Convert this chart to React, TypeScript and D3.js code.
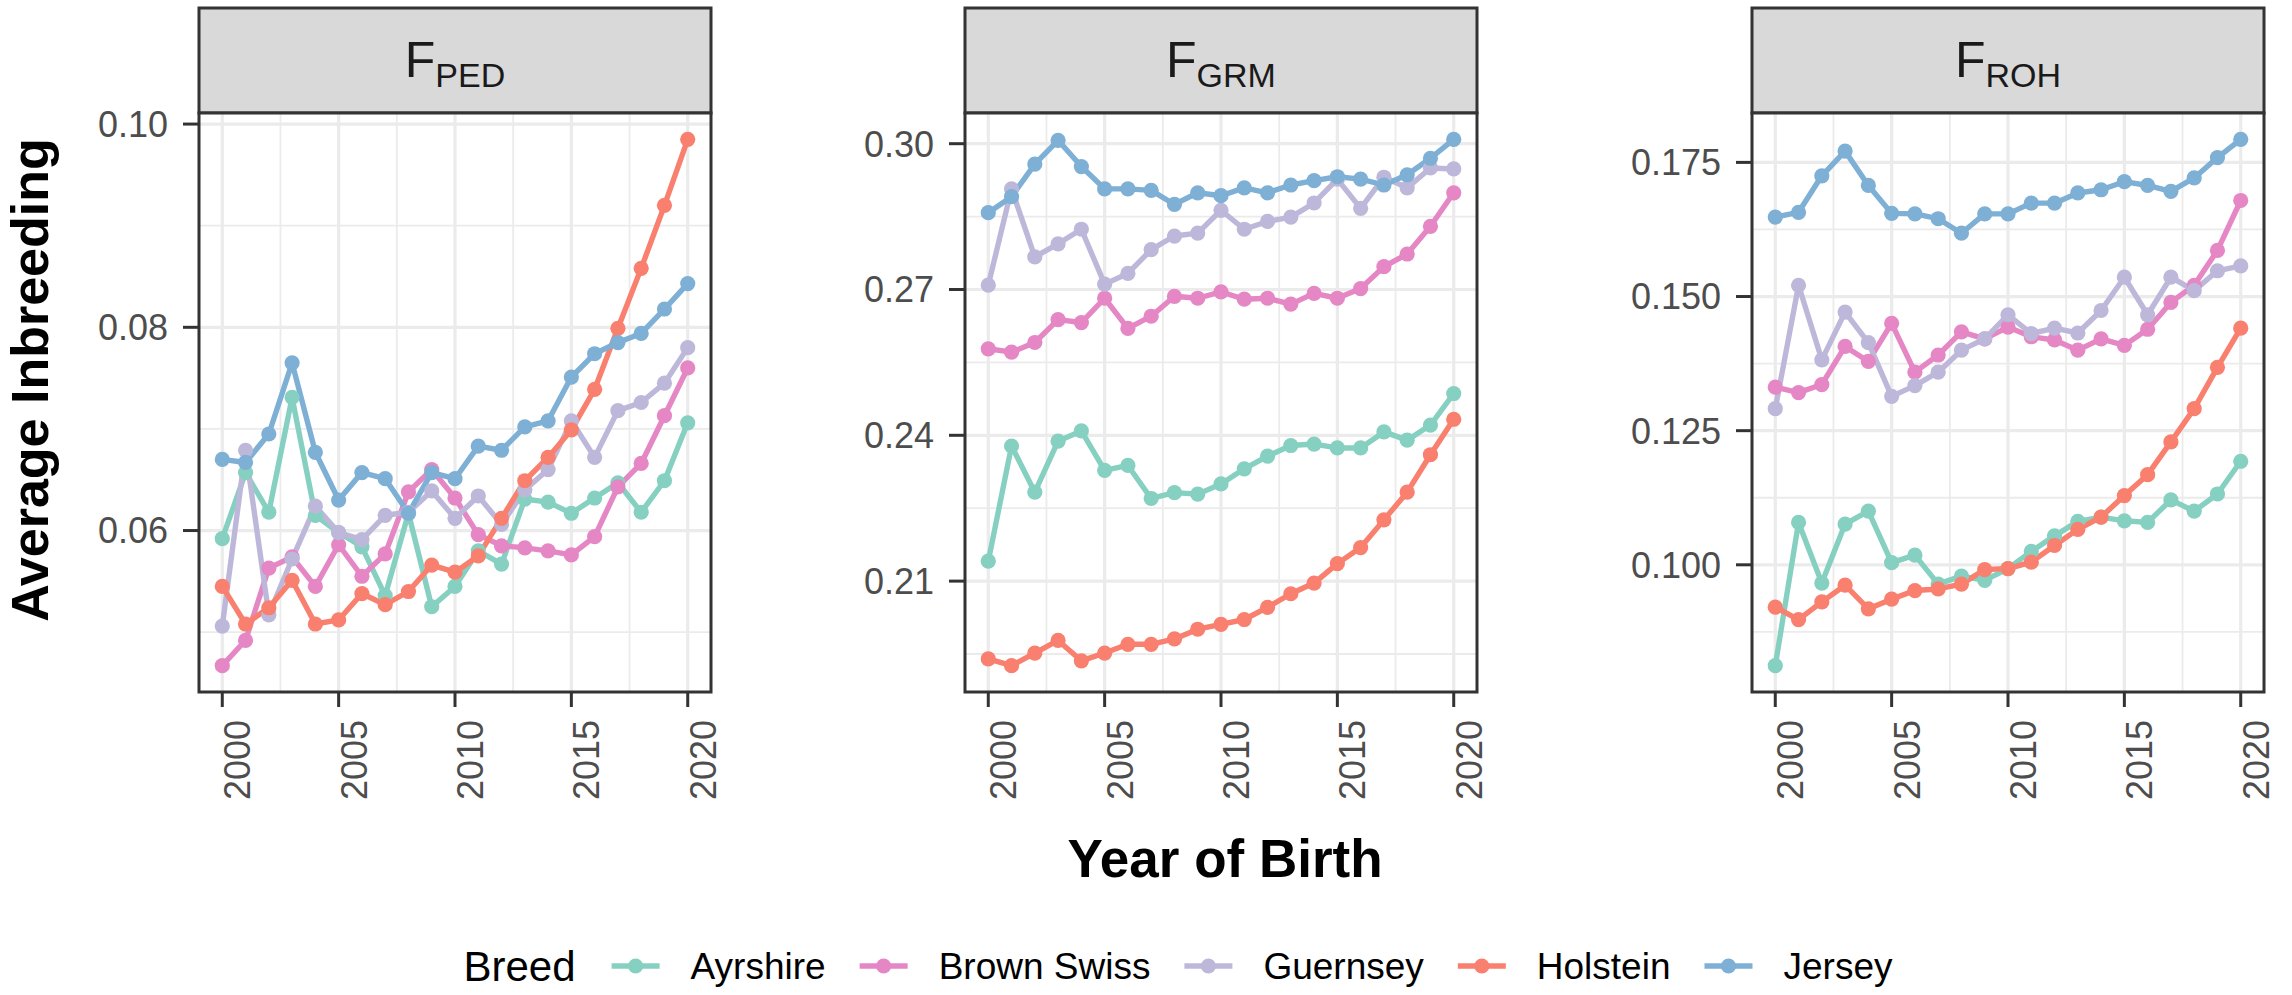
import React, { useMemo } from 'react';
import * as d3 from 'd3';

// Birth years on the x axis
const years = [
  2000, 2001, 2002, 2003, 2004, 2005, 2006, 2007, 2008, 2009, 2010,
  2011, 2012, 2013, 2014, 2015, 2016, 2017, 2018, 2019, 2020,
];

const breeds = ['Ayrshire', 'Brown Swiss', 'Guernsey', 'Holstein', 'Jersey'];
const breedColors = ['#86d0c1', '#e587c4', '#bdb8da', '#f97f6e', '#7eafd5'];

// Pedigree-based inbreeding (F_PED)
const pedAyrshire = [0.0592, 0.0657, 0.0618, 0.0731, 0.0615, 0.0598, 0.0584, 0.0536, 0.0617, 0.0525, 0.0545, 0.0580, 0.0567, 0.0631, 0.0628, 0.0617, 0.0632, 0.0647, 0.0618, 0.0649, 0.0706];
const pedBrownSwiss = [0.0467, 0.0492, 0.0563, 0.0574, 0.0545, 0.0586, 0.0555, 0.0577, 0.0638, 0.0660, 0.0632, 0.0596, 0.0585, 0.0583, 0.0580, 0.0576, 0.0594, 0.0643, 0.0666, 0.0713, 0.0760];
const pedGuernsey = [0.0506, 0.0679, 0.0517, 0.0572, 0.0624, 0.0598, 0.0591, 0.0615, 0.0618, 0.0639, 0.0612, 0.0634, 0.0606, 0.0640, 0.0660, 0.0708, 0.0672, 0.0718, 0.0726, 0.0745, 0.0780];
const pedHolstein = [0.0545, 0.0508, 0.0524, 0.0551, 0.0508, 0.0512, 0.0538, 0.0527, 0.0540, 0.0566, 0.0559, 0.0575, 0.0612, 0.0649, 0.0672, 0.0699, 0.0739, 0.0799, 0.0858, 0.0920, 0.0985];
const pedJersey = [0.0670, 0.0667, 0.0695, 0.0765, 0.0677, 0.0630, 0.0657, 0.0651, 0.0617, 0.0657, 0.0651, 0.0683, 0.0679, 0.0702, 0.0708, 0.0751, 0.0774, 0.0785, 0.0794, 0.0818, 0.0843];

// Genomic relationship matrix inbreeding (F_GRM)
const grmAyrshire = [0.2141, 0.2378, 0.2283, 0.2388, 0.2409, 0.2328, 0.2338, 0.2270, 0.2282, 0.2279, 0.2300, 0.2331, 0.2357, 0.2379, 0.2382, 0.2374, 0.2374, 0.2407, 0.2390, 0.2421, 0.2486];
const grmBrownSwiss = [0.2578, 0.2571, 0.2591, 0.2638, 0.2632, 0.2682, 0.2620, 0.2645, 0.2686, 0.2682, 0.2695, 0.2680, 0.2682, 0.2670, 0.2692, 0.2682, 0.2702, 0.2747, 0.2773, 0.2830, 0.2899];
const grmGuernsey = [0.2709, 0.2907, 0.2767, 0.2794, 0.2824, 0.2711, 0.2733, 0.2782, 0.2810, 0.2816, 0.2863, 0.2824, 0.2840, 0.2849, 0.2878, 0.2927, 0.2867, 0.2931, 0.2909, 0.2950, 0.2948];
const grmHolstein = [0.1940, 0.1926, 0.1952, 0.1978, 0.1936, 0.1952, 0.1970, 0.1970, 0.1981, 0.2001, 0.2011, 0.2021, 0.2046, 0.2074, 0.2096, 0.2136, 0.2169, 0.2226, 0.2283, 0.2360, 0.2433];
const grmJersey = [0.2858, 0.2891, 0.2958, 0.3007, 0.2953, 0.2907, 0.2907, 0.2904, 0.2875, 0.2899, 0.2893, 0.2909, 0.2899, 0.2915, 0.2924, 0.2932, 0.2927, 0.2915, 0.2936, 0.2970, 0.3009];

// Runs-of-homozygosity inbreeding (F_ROH)
const rohAyrshire = [0.0812, 0.1079, 0.0966, 0.1076, 0.1100, 0.1004, 0.1018, 0.0964, 0.0979, 0.0971, 0.0993, 0.1025, 0.1054, 0.1081, 0.1089, 0.1082, 0.1079, 0.1121, 0.1100, 0.1132, 0.1193];
const rohBrownSwiss = [0.1331, 0.1321, 0.1336, 0.1407, 0.1379, 0.1450, 0.1359, 0.1391, 0.1434, 0.1421, 0.1443, 0.1425, 0.1419, 0.1400, 0.1421, 0.1409, 0.1439, 0.1489, 0.1521, 0.1586, 0.1679];
const rohGuernsey = [0.1291, 0.1521, 0.1382, 0.1471, 0.1414, 0.1314, 0.1334, 0.1359, 0.1400, 0.1421, 0.1466, 0.1431, 0.1441, 0.1432, 0.1474, 0.1536, 0.1466, 0.1536, 0.1511, 0.1548, 0.1557];
const rohHolstein = [0.0921, 0.0898, 0.0931, 0.0962, 0.0918, 0.0936, 0.0952, 0.0955, 0.0964, 0.0991, 0.0993, 0.1005, 0.1036, 0.1066, 0.1089, 0.1129, 0.1168, 0.1229, 0.1291, 0.1368, 0.1441];
const rohJersey = [0.1648, 0.1657, 0.1725, 0.1771, 0.1707, 0.1655, 0.1654, 0.1645, 0.1618, 0.1654, 0.1654, 0.1674, 0.1674, 0.1693, 0.1699, 0.1714, 0.1707, 0.1696, 0.1721, 0.1759, 0.1793];

// Axis ticks
const xMajorTicks = [2000, 2005, 2010, 2015, 2020];
const xMinorTicks = [2002.5, 2007.5, 2012.5, 2017.5];
const pedMajorTicks = [0.06, 0.08, 0.10];
const pedMinorTicks = [0.05, 0.07, 0.09];
const grmMajorTicks = [0.21, 0.24, 0.27, 0.30];
const grmMinorTicks = [0.195, 0.225, 0.255, 0.285];
const rohMajorTicks = [0.1, 0.125, 0.15, 0.175];
const rohMinorTicks = [0.0875, 0.1125, 0.1375, 0.1625];

const panels = [
  { sub: 'PED', series: [pedAyrshire, pedBrownSwiss, pedGuernsey, pedHolstein, pedJersey], major: pedMajorTicks, minor: pedMinorTicks, fmt: d3.format('.2f') },
  { sub: 'GRM', series: [grmAyrshire, grmBrownSwiss, grmGuernsey, grmHolstein, grmJersey], major: grmMajorTicks, minor: grmMinorTicks, fmt: d3.format('.2f') },
  { sub: 'ROH', series: [rohAyrshire, rohBrownSwiss, rohGuernsey, rohHolstein, rohJersey], major: rohMajorTicks, minor: rohMinorTicks, fmt: d3.format('.3f') },
];

const W = 2292;
const H = 995;
const FONT = '"Liberation Sans", Arial, Helvetica, sans-serif';
const stripTop = 8;
const panelTop = 113;
const panelBottom = 692;
const panelLefts = [199, 965, 1752];
const panelWidth = 512;
const border = '#333333';
const gridColor = '#ebebeb';
const tickText = '#4d4d4d';
const axisFont = 36;
const legendTitleFont = 42;
const legendFont = 37;
const lineWidth = 5.4;
const pointRadius = 7.6;

function measure(text: string, size: number, weight = 'normal') {
  const c = document.createElement('canvas').getContext('2d');
  if (!c) return text.length * size * 0.55;
  c.font = `${weight} ${size}px ${FONT}`;
  return c.measureText(text).width;
}

function Panel({ p, left }: { p: typeof panels[number]; left: number }) {
  const right = left + panelWidth;
  const x = d3.scaleLinear().domain([1999, 2021]).range([left, right]);
  const all = p.series.flat();
  const lo = d3.min(all) as number;
  const hi = d3.max(all) as number;
  const pad = (hi - lo) * 0.05;
  const y = d3.scaleLinear().domain([lo - pad, hi + pad]).range([panelBottom, panelTop]);
  const line = d3
    .line<number>()
    .x((_, i) => x(years[i]))
    .y((v) => y(v));

  const midX = (left + right) / 2;
  return (
    <g>
      {/* strip */}
      <rect x={left} y={stripTop} width={panelWidth} height={panelTop - stripTop} fill="#d9d9d9" stroke={border} strokeWidth={3} />
      <text x={midX} y={77} textAnchor="middle" fontFamily={FONT} fill="#1a1a1a">
        <tspan fontSize={50}>F</tspan>
        <tspan fontSize={34} dy={10}>{p.sub}</tspan>
      </text>
      {/* background + grid */}
      <rect x={left} y={panelTop} width={panelWidth} height={panelBottom - panelTop} fill="#ffffff" />
      {p.minor.map((t) => (
        <line key={'ym' + t} x1={left} x2={right} y1={y(t)} y2={y(t)} stroke={gridColor} strokeWidth={1.8} />
      ))}
      {xMinorTicks.map((t) => (
        <line key={'xm' + t} y1={panelTop} y2={panelBottom} x1={x(t)} x2={x(t)} stroke={gridColor} strokeWidth={1.8} />
      ))}
      {p.major.map((t) => (
        <line key={'yM' + t} x1={left} x2={right} y1={y(t)} y2={y(t)} stroke={gridColor} strokeWidth={3.2} />
      ))}
      {xMajorTicks.map((t) => (
        <line key={'xM' + t} y1={panelTop} y2={panelBottom} x1={x(t)} x2={x(t)} stroke={gridColor} strokeWidth={3.2} />
      ))}
      {/* lines then points */}
      {p.series.map((s, k) => (
        <path key={'l' + k} d={line(s) || ''} fill="none" stroke={breedColors[k]} strokeWidth={lineWidth} strokeLinejoin="round" />
      ))}
      {p.series.map((s, k) => (
        <g key={'p' + k} fill={breedColors[k]}>
          {s.map((v, i) => (
            <circle key={i} cx={x(years[i])} cy={y(v)} r={pointRadius} />
          ))}
        </g>
      ))}
      {/* panel border */}
      <rect x={left} y={panelTop} width={panelWidth} height={panelBottom - panelTop} fill="none" stroke={border} strokeWidth={3} />
      {/* y axis */}
      {p.major.map((t) => (
        <g key={'yt' + t}>
          <line x1={left - 16} x2={left} y1={y(t)} y2={y(t)} stroke={border} strokeWidth={3} />
          <text x={left - 31} y={y(t)} dy="0.36em" textAnchor="end" fontFamily={FONT} fontSize={axisFont} fill={tickText}>
            {p.fmt(t)}
          </text>
        </g>
      ))}
      {/* x axis */}
      {xMajorTicks.map((t) => (
        <g key={'xt' + t}>
          <line x1={x(t)} x2={x(t)} y1={panelBottom} y2={panelBottom + 15} stroke={border} strokeWidth={3} />
          <text
            transform={`translate(${x(t) + 28},${panelBottom + 28}) rotate(-90)`}
            textAnchor="end"
            fontFamily={FONT}
            fontSize={axisFont}
            fill={tickText}
          >
            {t}
          </text>
        </g>
      ))}
    </g>
  );
}

export default function App() {
  const legend = useMemo(() => {
    const keyGapTitle = 60;
    const keyToLabel = 55;
    const labelToKey = 58;
    const titleW = measure('Breed', legendTitleFont);
    const items: { key: number; label: number }[] = [];
    let cursor = titleW + keyGapTitle;
    breeds.forEach((b) => {
      const key = cursor;
      const label = key + keyToLabel;
      items.push({ key, label });
      cursor = label + measure(b, legendFont) + labelToKey;
    });
    const total = cursor - labelToKey;
    const start = 1178 - total / 2;
    return { start, items };
  }, []);

  const legendY = 966;

  return (
    <svg
      width={W}
      height={H}
      viewBox={`0 0 ${W} ${H}`}
      style={{ position: 'absolute', left: 0, top: 0, background: '#ffffff' }}
    >
      <rect width={W} height={H} fill="#ffffff" />
      {panels.map((p, i) => (
        <Panel key={p.sub} p={p} left={panelLefts[i]} />
      ))}
      {/* axis titles */}
      <text
        transform={`translate(48,${(stripTop + panelBottom) / 2 + 30}) rotate(-90)`}
        textAnchor="middle"
        fontFamily={FONT}
        fontWeight="bold"
        fontSize={52}
        fill="#000"
      >
        Average Inbreeding
      </text>
      <text x={1225} y={877} textAnchor="middle" fontFamily={FONT} fontWeight="bold" fontSize={53} fill="#000">
        Year of Birth
      </text>
      {/* legend */}
      <g>
        <text x={legend.start} y={legendY} dy="0.36em" fontFamily={FONT} fontSize={legendTitleFont} fill="#000">
          Breed
        </text>
        {breeds.map((b, k) => {
          const it = legend.items[k];
          const cx = legend.start + it.key;
          return (
            <g key={b}>
              <line x1={cx - 24} x2={cx + 24} y1={legendY} y2={legendY} stroke={breedColors[k]} strokeWidth={lineWidth} />
              <circle cx={cx} cy={legendY} r={pointRadius} fill={breedColors[k]} />
              <text x={legend.start + it.label} y={legendY} dy="0.36em" fontFamily={FONT} fontSize={legendFont} fill="#000">
                {b}
              </text>
            </g>
          );
        })}
      </g>
    </svg>
  );
}
